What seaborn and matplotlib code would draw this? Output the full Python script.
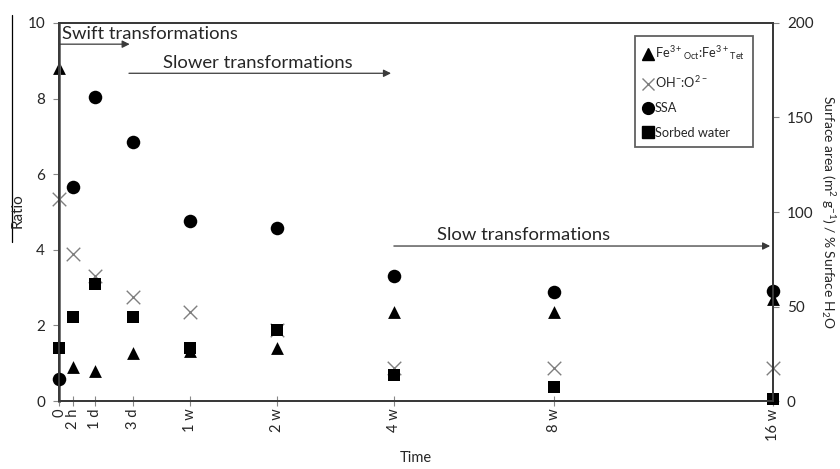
import matplotlib
matplotlib.use('Agg')
import matplotlib.pyplot as plt
import seaborn as sns
import pandas as pd
from matplotlib.lines import Line2D

# data
time_labels = ['0', '2 h', '1 d', '3 d', '1 w', '2 w', '4 w', '8 w', '16 w']
time_pos = [0, 2.0, 5.0, 10.3, 18.3, 30.6, 46.9, 69.3, 100]

fe_ratio = [8.8, 0.9, 0.8, 1.28, 1.32, 1.41, 2.36, 2.36, 2.69]      # left axis
oh_ratio = [5.34, 3.89, 3.3, 2.76, 2.35, 1.88, 0.87, 0.87, 0.87]    # left axis
ssa = [11.5, 113, 161, 137, 95.4, 91.7, 66, 57.7, 58.2]             # right axis
sorbed_water = [28.2, 44.6, 61.9, 44.6, 27.9, 37.6, 13.8, 7.6, 1.2]  # right axis

df = pd.DataFrame({'time': time_pos, 'fe': fe_ratio, 'oh': oh_ratio,
                   'ssa': ssa, 'water': sorbed_water})

sns.set_style('white')
plt.rcParams['font.family'] = ['Lato', 'DejaVu Sans']
plt.rcParams['mathtext.default'] = 'regular'

dark = '#3a3a3a'
fig = plt.figure(figsize=(8.4, 4.69), dpi=100)
ax = fig.add_axes([59/840, 1-401/469, (773-59)/840, (401-23)/469])
ax2 = ax.twinx()

sns.scatterplot(data=df, x='time', y='fe', ax=ax, marker='^', s=85, color='black',
                edgecolor='black', linewidth=0, clip_on=False)
sns.scatterplot(data=df, x='time', y='oh', ax=ax, marker='x', s=95, color='#7f7f7f',
                linewidth=1.0, clip_on=False)
sns.scatterplot(data=df, x='time', y='ssa', ax=ax2, marker='o', s=95, color='black',
                edgecolor='black', linewidth=0, clip_on=False)
sns.scatterplot(data=df, x='time', y='water', ax=ax2, marker='s', s=80, color='black',
                edgecolor='black', linewidth=0, clip_on=False)

ax.set_xlim(0, 100)
ax.set_ylim(0, 10)
ax2.set_ylim(0, 200)
ax.set_yticks(range(0, 11, 2))
ax2.set_yticks(range(0, 201, 50))
ax.set_xticks(time_pos)
ax.set_xticklabels(time_labels, rotation=90)
ax.set_xlabel('')
ax.set_ylabel('')
ax2.set_ylabel('')

for a in (ax, ax2):
    for sp in a.spines.values():
        sp.set_color(dark)
        sp.set_linewidth(1.4)
ax.spines['left'].set_color('#666666')
ax.spines['left'].set_linewidth(2)

ax.tick_params(axis='y', direction='out', length=4, width=0.8, color='#888888',
               labelsize=11, pad=6, left=True)
ax2.tick_params(axis='y', direction='out', length=4, width=0.8, color='#888888',
                labelsize=11, pad=6, right=True)
ax.tick_params(axis='x', direction='inout', length=7, width=0.8, color='#888888',
               labelsize=10.5, pad=2, bottom=True)

# phase annotations
arrow_kw = dict(arrowstyle='-|>', color=dark, lw=0.9, mutation_scale=11,
                shrinkA=0, shrinkB=0)
ax.annotate('', xy=(9.9, 9.44), xytext=(0, 9.44), arrowprops=arrow_kw)
ax.text(0.4, 9.71, 'Swift transformations', fontsize=13.3, va='center', ha='left')
ax.annotate('', xy=(46.5, 8.67), xytext=(9.8, 8.67), arrowprops=arrow_kw)
ax.text(14.6, 8.94, 'Slower transformations', fontsize=13.3, va='center', ha='left')
ax.annotate('', xy=(99.6, 4.1), xytext=(46.9, 4.1), arrowprops=arrow_kw)
ax.text(52.9, 4.39, 'Slow transformations', fontsize=13.3, va='center', ha='left')

# axis labels
fig.text(416/840, 1-458/469, 'Time', ha='center', va='center', fontsize=10.5)
fig.text(18/840, 1-211/469, 'Ratio', rotation=90, ha='center', va='center', fontsize=11)
fig.add_artist(Line2D([12/840, 12/840], [1-15/469, 1-242/469], color='black', lw=0.9))
fig.text(828/840, 1-212/469, 'Surface area (m$^2$ g$^{-1}$) / % Surface H$_2$O',
         rotation=270, ha='center', va='center', fontsize=10)

handles = [
    Line2D([], [], marker='^', color='black', ls='', markersize=8.5),
    Line2D([], [], marker='x', color='#7f7f7f', ls='', markersize=8.5, markeredgewidth=1.0),
    Line2D([], [], marker='o', color='black', ls='', markersize=8.5),
    Line2D([], [], marker='s', color='black', ls='', markersize=8),
]
labels = [r'Fe$^{3+}$$_{Oct}$:Fe$^{3+}$$_{Tet}$', r'OH$^{-}$:O$^{2-}$', 'SSA', 'Sorbed water']
leg = fig.legend(handles, labels, loc='upper left', bbox_to_anchor=(635/840, 1-36/469),
                 bbox_transform=fig.transFigure, frameon=True, fancybox=False,
                 fontsize=9.2, handlelength=0.7, handletextpad=0.2, labelspacing=0.95,
                 borderpad=0.65, borderaxespad=0)
leg.get_frame().set_edgecolor(dark)
leg.get_frame().set_linewidth(1.3)

fig.savefig('out.png', dpi=100)
